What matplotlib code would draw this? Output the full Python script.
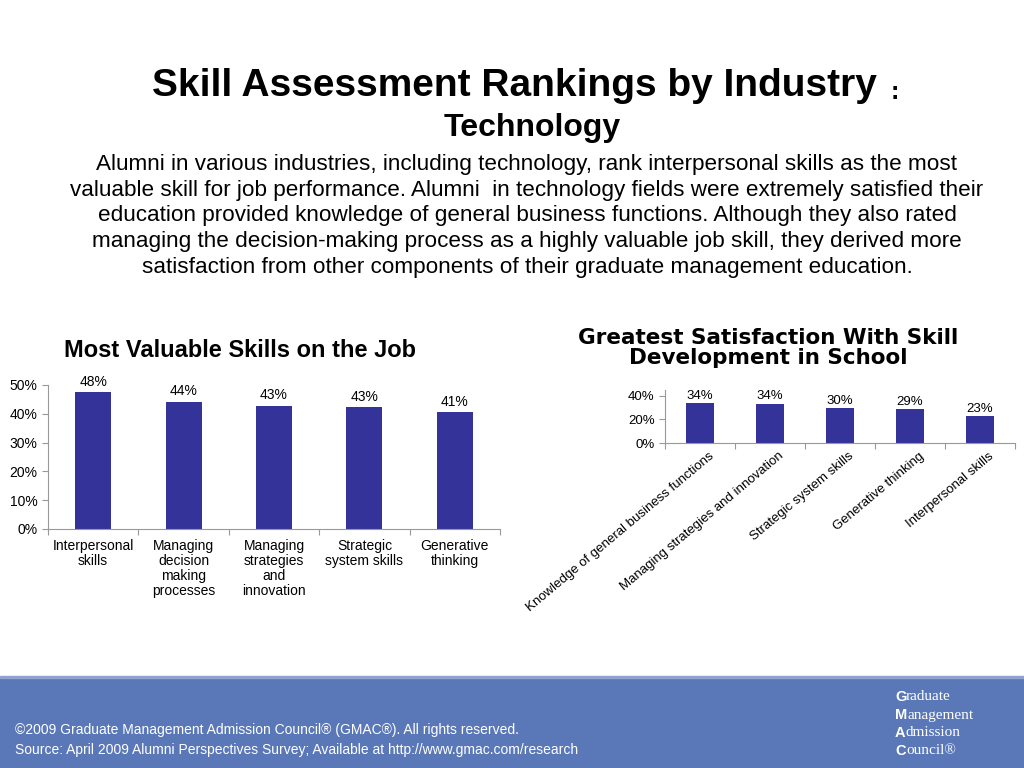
import matplotlib
matplotlib.use("Agg")
import matplotlib.pyplot as plt
from matplotlib.patches import Rectangle

plt.rcParams['font.family'] = ['Liberation Sans', 'DejaVu Sans']

left_cats = ["Interpersonal\nskills", "Managing\ndecision\nmaking\nprocesses", "Managing\nstrategies\nand\ninnovation", "Strategic\nsystem skills", "Generative\nthinking"]
left_vals = [0.475, 0.442, 0.428, 0.423, 0.406]
left_labels = ["48%", "44%", "43%", "43%", "41%"]

right_cats = ["Knowledge of general business functions", "Managing strategies and innovation", "Strategic system skills", "Generative thinking", "Interpersonal skills"]
right_vals = [0.34, 0.335, 0.295, 0.29, 0.23]
right_labels = ["34%", "34%", "30%", "29%", "23%"]

bar_color = "#333399"
W, H = 1024, 768
fig = plt.figure(figsize=(10.24, 7.68), dpi=100)

fig.patches.append(Rectangle((0, 0), 1, 90/H, transform=fig.transFigure, color="#5a78b8", zorder=0))
fig.patches.append(Rectangle((0, 90/H), 1, 2/H, transform=fig.transFigure, color="#8ea3d0", zorder=0))

fig.text(152/W, 1-86/H, "Skill Assessment Rankings by Industry", fontsize=28, fontweight='bold', va='center', ha='left')
fig.text(891/W, 1-92/H, ":", fontsize=18, fontweight='bold', va='center')
fig.text(532/W, 1-128/H, "Technology", fontsize=23, fontweight='bold', ha='center', va='center')
para = ("Alumni in various industries, including technology, rank interpersonal skills as the most\n"
        "valuable skill for job performance. Alumni  in technology fields were extremely satisfied their\n"
        "education provided knowledge of general business functions. Although they also rated\n"
        "managing the decision-making process as a highly valuable job skill, they derived more\n"
        "satisfaction from other components of their graduate management education.")
fig.text(527/W, 1-216/H, para, fontsize=16.2, ha='center', va='center', linespacing=1.3)

# Left chart
ax1 = fig.add_axes([48/W, (H-529)/H, 452/W, 144/H])
x = range(len(left_vals))
ax1.bar(x, left_vals, width=0.4, color=bar_color)
for i, (v, l) in enumerate(zip(left_vals, left_labels)):
    ax1.text(i, v + 0.012, l, ha='center', va='bottom', fontsize=10)
ax1.set_ylim(0, 0.5)
ax1.set_xlim(-0.5, 4.5)
ax1.set_yticks([0, 0.1, 0.2, 0.3, 0.4, 0.5])
ax1.set_yticklabels(["0%", "10%", "20%", "30%", "40%", "50%"], fontsize=10)
ax1.set_xticks([i + 0.5 for i in range(-1, 5)])
ax1.set_xticklabels([])
ax1.tick_params(axis='both', length=4, color='#999999')
for i, c in enumerate(left_cats):
    ax1.text(i, -0.035, c, ha='center', va='top', fontsize=10, linespacing=1.1)
for s in ['top', 'right']:
    ax1.spines[s].set_visible(False)
for s in ['left', 'bottom']:
    ax1.spines[s].set_color('#999999')
fig.text(64/W, 1-350/H, "Most Valuable Skills on the Job", fontsize=17, fontweight='bold', ha='left', va='center')

# Right chart
ax2 = fig.add_axes([665/W, (H-443)/H, 350/W, 53/H])
ax2.bar(range(5), right_vals, width=0.4, color=bar_color)
for i, (v, l) in enumerate(zip(right_vals, right_labels)):
    ax2.text(i, v + 0.01, l, ha='center', va='bottom', fontsize=9.5)
ax2.set_ylim(0, 0.45)
ax2.set_xlim(-0.5, 4.5)
ax2.set_yticks([0, 0.2, 0.4])
ax2.set_yticklabels(["0%", "20%", "40%"], fontsize=9.5)
ax2.set_xticks([i + 0.5 for i in range(-1, 5)])
ax2.set_xticklabels([])
ax2.tick_params(axis='both', length=4, color='#999999')
for i, c in enumerate(right_cats):
    ax2.text(i + 0.12, -0.06, c, ha='right', va='top', rotation=40, rotation_mode='anchor', fontsize=9.5)
for s in ['top', 'right']:
    ax2.spines[s].set_visible(False)
for s in ['left', 'bottom']:
    ax2.spines[s].set_color('#999999')
fig.text(768/W, 1-348/H, "Greatest Satisfaction With Skill\nDevelopment in School", fontsize=15.5, fontweight='bold', ha='center', va='center', linespacing=1.05, family=['DejaVu Sans'])

# Footer
fig.text(15/W, 1-730/H, "©2009 Graduate Management Admission Council® (GMAC®). All rights reserved.", fontsize=10, color='white', va='center')
fig.text(15/W, 1-750/H, "Source: April 2009 Alumni Perspectives Survey; Available at http://www.gmac.com/research", fontsize=10, color='white', va='center')
offs = [906, 907, 906, 906]
for k, (b, rest) in enumerate([("G", "raduate"), ("M", "anagement"), ("A", "dmission"), ("C", "ouncil®")]):
    y = 1 - (697 + k*18)/H
    fig.text(895/W, y, b, fontsize=10.5, fontweight='bold', color='white', va='center', ha='left')
    fig.text(offs[k]/W, y, rest, fontsize=11, color='white', va='center', family=['Liberation Serif'])

fig.savefig("out.png", dpi=100)
